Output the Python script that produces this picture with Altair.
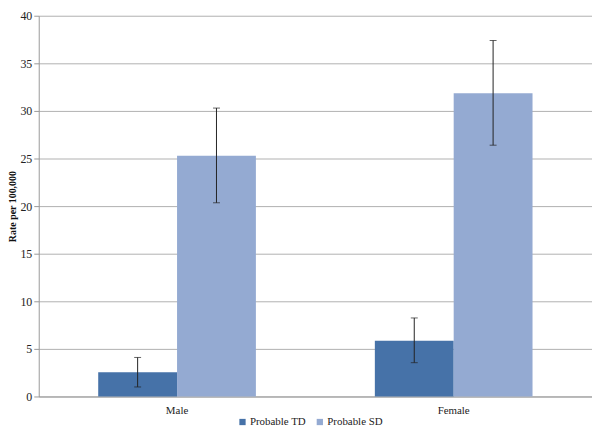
import altair as alt
import pandas as pd

sex = ["Male", "Male", "Female", "Female"]
series = ["Probable TD", "Probable SD", "Probable TD", "Probable SD"]
rate = [2.55, 25.3, 5.85, 31.85]
lower = [1.0, 20.35, 3.55, 26.4]
upper = [4.1, 30.3, 8.25, 37.4]

df = pd.DataFrame({"sex": sex, "series": series, "rate": rate, "lower": lower, "upper": upper})

font = "Liberation Serif"
H = 384
x = alt.X("sex:N", sort=["Male", "Female"], title=None,
          scale=alt.Scale(paddingInner=0.43, paddingOuter=0.215),
          axis=alt.Axis(labelAngle=0, ticks=False, labelPadding=8, labelFont=font,
                        labelFontSize=11, labelColor="#222", domainColor="#999"))
xo = alt.XOffset("series:N", sort=["Probable TD", "Probable SD"], scale=alt.Scale(paddingInner=0, paddingOuter=0))

bars = alt.Chart(df).mark_bar().encode(
    x=x, xOffset=xo,
    y=alt.Y("rate:Q", title="Rate per 100,000",
            scale=alt.Scale(domain=[0, 40], nice=False),
            axis=alt.Axis(values=[0, 5, 10, 15, 20, 25, 30, 35, 40], tickSize=5, labelPadding=2,
                          labelFont=font, labelFontSize=12, labelColor="#222",
                          titleFont=font, titleFontSize=10, titleFontWeight="bold", titlePadding=2,
                          titleColor="#111", gridColor="#b0b0b0", tickColor="#999", domainColor="#999")),
    color=alt.Color("series:N", sort=["Probable TD", "Probable SD"],
                    scale=alt.Scale(domain=["Probable TD", "Probable SD"], range=["#4672A8", "#94AAD2"]),
                    legend=alt.Legend(orient="none", legendX=200, legendY=H + 20, direction="horizontal",
                                      title=None, symbolType="square",
                                      symbolSize=40, labelFont=font, labelFontSize=11, labelColor="#222",
                                      columnPadding=8, labelOffset=2)),
)

rules = alt.Chart(df).mark_rule(color="#222", strokeWidth=1).encode(
    x=x, xOffset=xo, y="lower:Q", y2="upper:Q")

caps_lo = alt.Chart(df).mark_tick(color="#222", size=7, thickness=1).encode(x=x, xOffset=xo, y="lower:Q")
caps_hi = alt.Chart(df).mark_tick(color="#222", size=7, thickness=1).encode(x=x, xOffset=xo, y="upper:Q")

chart = alt.layer(bars, rules, caps_lo, caps_hi).properties(
    width=558, height=H, padding={"left": 0, "top": 0, "right": 0, "bottom": 0}
).configure(font=font).configure_legend(labelFont=font).configure_axis(labelFont=font).configure_view(stroke=None)

chart.save("out.html", embed_options={"renderer": "svg", "actions": False})
